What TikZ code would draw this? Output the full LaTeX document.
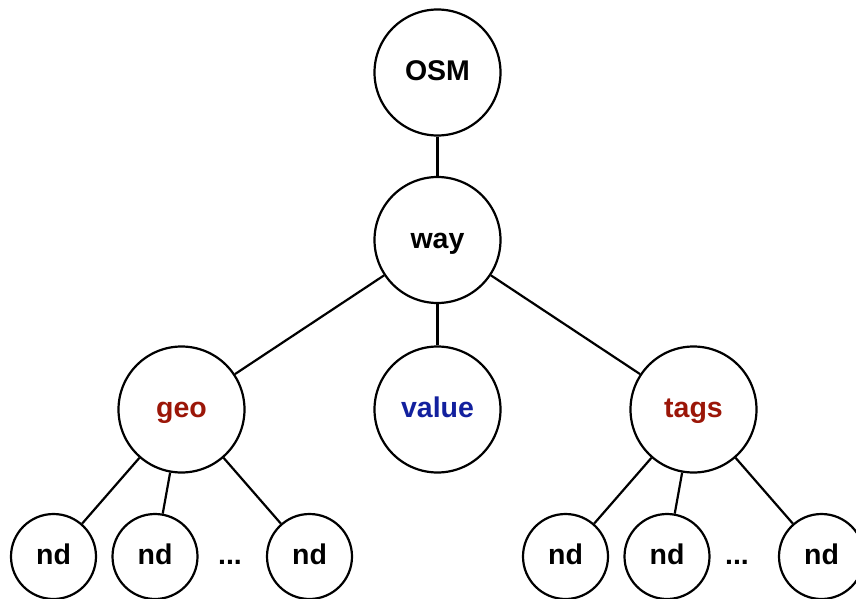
\documentclass[tikz,border=0pt]{standalone}
\usepackage{fontspec}
\setmainfont{Liberation Sans}
\definecolor{keyred}{RGB}{155,22,8}
\definecolor{keyblue}{RGB}{18,32,158}
\begin{document}
\begin{tikzpicture}[x=1pt,y=-1pt,
  lbl/.style={font=\fontsize{28.5}{30}\selectfont\bfseries, inner sep=0pt,
    text height=20pt, text depth=4pt},
  bignode/.style={lbl, circle, draw, line width=2.2pt, minimum size=126pt},
  leafnode/.style={lbl, circle, draw, line width=2.2pt, minimum size=85pt},
  link/.style={line width=2.2pt}]
\useasboundingbox (0,0) rectangle (856,599);
% upper levels
\node[bignode] (osm) at (437.5,72.5) {OSM};
\node[bignode] (way) at (437.5,240) {way};
\node[bignode, text=keyred] (geo) at (181.5,409.5) {geo};
\node[bignode, text=keyblue] (value) at (437.5,409.5) {value};
\node[bignode, text=keyred] (tags) at (693.5,409.5) {tags};
% leaves
\node[leafnode] (g1) at (53.5,556.5) {nd};
\node[leafnode] (g2) at (155,556.5) {nd};
\node[lbl] (gdots) at (230,556.5) {...};
\node[leafnode] (g3) at (309.5,556.5) {nd};
\node[leafnode] (t1) at (565.5,556.5) {nd};
\node[leafnode] (t2) at (667,556.5) {nd};
\node[lbl] (tdots) at (737,556.5) {...};
\node[leafnode] (t3) at (821.5,556.5) {nd};
% connectors
\draw[link] (osm) -- (way);
\draw[link] (way) -- (geo);
\draw[link] (way) -- (value);
\draw[link] (way) -- (tags);
\draw[link] (geo) -- (g1);
\draw[link] (geo) -- (g2);
\draw[link] (geo) -- (g3);
\draw[link] (tags) -- (t1);
\draw[link] (tags) -- (t2);
\draw[link] (tags) -- (t3);
\end{tikzpicture}
\end{document}
